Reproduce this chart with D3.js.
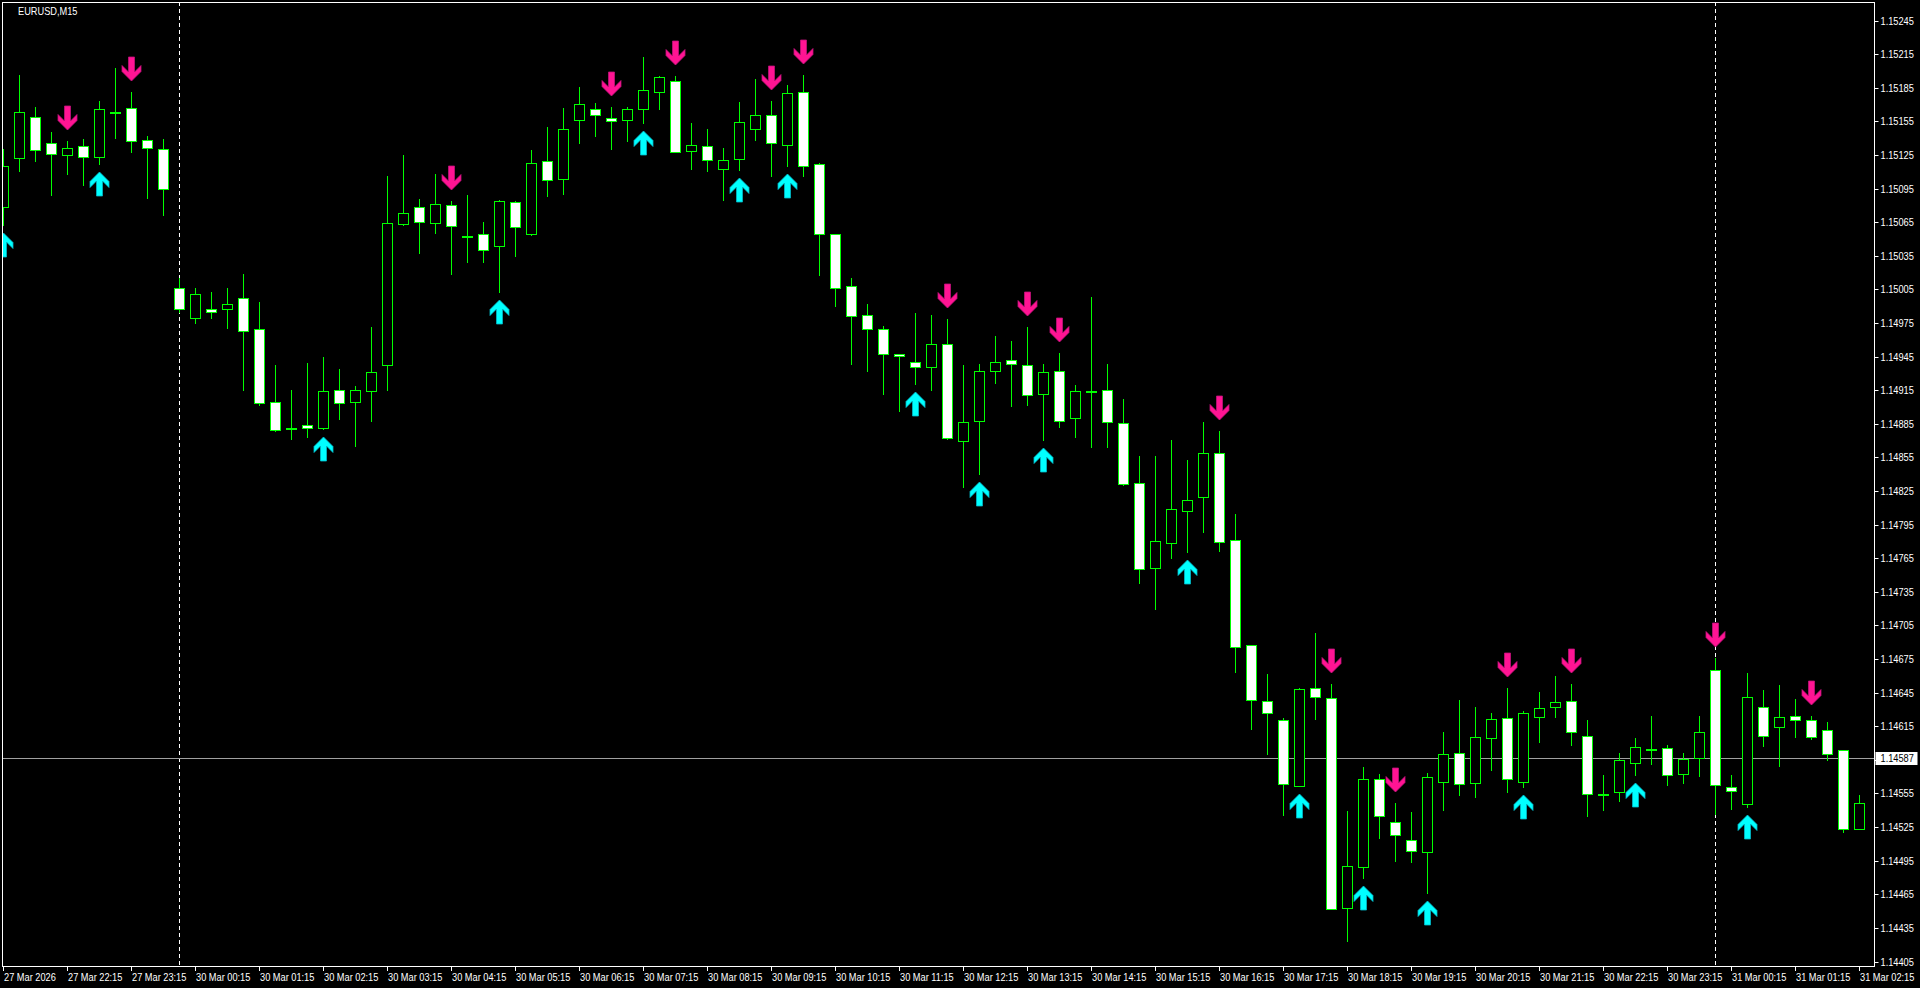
<!DOCTYPE html>
<html><head><meta charset="utf-8">
<script src="https://cdn.jsdelivr.net/npm/d3@7"></script>
<style>html,body{margin:0;padding:0;background:#000;overflow:hidden}svg{display:block}</style>
</head><body>
<script>
const symbolTitle = "EURUSD,M15";
const timeLabels = ["27 Mar 2026","27 Mar 22:15","27 Mar 23:15","30 Mar 00:15","30 Mar 01:15","30 Mar 02:15","30 Mar 03:15","30 Mar 04:15","30 Mar 05:15","30 Mar 06:15","30 Mar 07:15","30 Mar 08:15","30 Mar 09:15","30 Mar 10:15","30 Mar 11:15","30 Mar 12:15","30 Mar 13:15","30 Mar 14:15","30 Mar 15:15","30 Mar 16:15","30 Mar 17:15","30 Mar 18:15","30 Mar 19:15","30 Mar 20:15","30 Mar 21:15","30 Mar 22:15","30 Mar 23:15","31 Mar 00:15","31 Mar 01:15","31 Mar 02:15"];
const opens = [1.15079,1.15123,1.15159,1.15136,1.15125,1.15133,1.15124,1.15164,1.15167,1.15139,
1.15131,1.15007,1.14980,1.14988,1.14988,1.14998,1.14970,1.14905,1.14882,1.14884,
1.14882,1.14916,1.14905,1.14915,1.14938,1.15064,1.15079,1.15065,1.15081,1.15053,
1.15055,1.15044,1.15083,1.15055,1.15120,1.15104,1.15157,1.15166,1.15158,1.15157,
1.15166,1.15182,1.15191,1.15129,1.15133,1.15113,1.15122,1.15149,1.15161,1.15134,
1.15182,1.15117,1.15055,1.15008,1.14983,1.14970,1.14948,1.14941,1.14936,1.14957,
1.14870,1.14888,1.14933,1.14942,1.14938,1.14912,1.14933,1.14891,1.14915,1.14916,
1.14886,1.14833,1.14757,1.14779,1.14808,1.14820,1.14859,1.14782,1.14688,1.14638,
1.14621,1.14562,1.14650,1.14641,1.14453,1.14490,1.14568,1.14530,1.14514,1.14503,
1.14566,1.14592,1.14565,1.14605,1.14623,1.14566,1.14624,1.14633,1.14638,1.14607,
1.14555,1.14557,1.14583,1.14595,1.14596,1.14573,1.14587,1.14666,1.14561,1.14546,
1.14633,1.14615,1.14625,1.14621,1.14612,1.14594,1.14524];
const highs = [1.15131,1.15197,1.15168,1.15146,1.15138,1.15140,1.15174,1.15203,1.15182,1.15142,
1.15140,1.15016,1.15007,1.15003,1.15007,1.15019,1.14994,1.14938,1.14916,1.14940,
1.14945,1.14934,1.14919,1.14972,1.15107,1.15125,1.15086,1.15108,1.15084,1.15090,
1.15066,1.15085,1.15084,1.15130,1.15150,1.15167,1.15186,1.15172,1.15168,1.15168,
1.15213,1.15196,1.15196,1.15154,1.15149,1.15132,1.15173,1.15193,1.15174,1.15188,
1.15197,1.15118,1.15055,1.15016,1.14992,1.14973,1.14948,1.14984,1.14983,1.14979,
1.14938,1.14939,1.14964,1.14959,1.14972,1.14939,1.14949,1.14920,1.14999,1.14939,
1.14908,1.14857,1.14857,1.14871,1.14853,1.14887,1.14879,1.14805,1.14688,1.14662,
1.14623,1.14650,1.14699,1.14653,1.14540,1.14579,1.14573,1.14547,1.14539,1.14574,
1.14610,1.14639,1.14633,1.14627,1.14650,1.14629,1.14646,1.14660,1.14653,1.14621,
1.14572,1.14592,1.14605,1.14625,1.14599,1.14592,1.14625,1.14676,1.14572,1.14663,
1.14648,1.14652,1.14640,1.14625,1.14619,1.14594,1.14554];
const lows = [1.15063,1.15111,1.15120,1.15090,1.15108,1.15099,1.15117,1.15141,1.15128,1.15087,
1.15072,1.14985,1.14975,1.14980,1.14971,1.14916,1.14902,1.14879,1.14872,1.14874,
1.14881,1.14890,1.14866,1.14888,1.14916,1.15063,1.15038,1.15056,1.15019,1.15030,
1.15030,1.15003,1.15035,1.15054,1.15089,1.15091,1.15136,1.15142,1.15131,1.15138,
1.15154,1.15166,1.15128,1.15113,1.15111,1.15085,1.15112,1.15139,1.15107,1.15116,
1.15107,1.15018,1.14991,1.14939,1.14933,1.14912,1.14897,1.14921,1.14916,1.14872,
1.14829,1.14841,1.14922,1.14901,1.14902,1.14871,1.14883,1.14874,1.14865,1.14865,
1.14831,1.14743,1.14720,1.14766,1.14771,1.14789,1.14772,1.14664,1.14613,1.14591,
1.14536,1.14562,1.14622,1.14452,1.14424,1.14480,1.14516,1.14495,1.14494,1.14467,
1.14541,1.14554,1.14552,1.14576,1.14557,1.14561,1.14601,1.14624,1.14599,1.14535,
1.14541,1.14549,1.14572,1.14582,1.14563,1.14565,1.14571,1.14537,1.14542,1.14543,
1.14598,1.14580,1.14606,1.14604,1.14585,1.14521,1.14524];
const closes = [1.15116,1.15164,1.15130,1.15126,1.15132,1.15124,1.15166,1.15164,1.15138,1.15132,
1.15095,1.14988,1.15001,1.14985,1.14992,1.14968,1.14904,1.14880,1.14882,1.14882,
1.14915,1.14904,1.14916,1.14932,1.15065,1.15074,1.15066,1.15082,1.15062,1.15053,
1.15041,1.15084,1.15061,1.15118,1.15103,1.15149,1.15171,1.15161,1.15156,1.15166,
1.15183,1.15195,1.15128,1.15134,1.15121,1.15121,1.15155,1.15161,1.15136,1.15181,
1.15116,1.15055,1.15007,1.14982,1.14970,1.14948,1.14946,1.14936,1.14957,1.14873,
1.14887,1.14933,1.14941,1.14939,1.14911,1.14932,1.14888,1.14915,1.14915,1.14887,
1.14832,1.14756,1.14781,1.14809,1.14817,1.14859,1.14780,1.14686,1.14639,1.14627,
1.14564,1.14649,1.14642,1.14452,1.14491,1.14568,1.14535,1.14518,1.14504,1.14570,
1.14591,1.14564,1.14606,1.14622,1.14568,1.14627,1.14632,1.14637,1.14610,1.14555,
1.14555,1.14585,1.14597,1.14595,1.14572,1.14586,1.14610,1.14563,1.14558,1.14642,
1.14607,1.14624,1.14621,1.14606,1.14591,1.14524,1.14547];
const upArrowBars = [0,6,20,31,40,46,49,57,61,65,74,81,85,89,95,102,109];
const downArrowBars = [4,8,28,38,42,48,50,59,64,66,76,83,87,94,98,107,113];
const separatorBars = [11,107];
const priceTicks = [1.14405,1.14435,1.14465,1.14495,1.14525,1.14555,1.14585,1.14615,1.14645,1.14675,1.14705,1.14735,1.14765,1.14795,1.14825,1.14855,1.14885,1.14915,1.14945,1.14975,1.15005,1.15035,1.15065,1.15095,1.15125,1.15155,1.15185,1.15215,1.15245];
const currentPrice = 1.14587;

const W = 1920, H = 988;
const plot = {left: 2, top: 2, right: 1874, bottom: 966};
const n = opens.length;
const x = d3.scaleLinear().domain([0, n - 1]).range([3.5, 1859.5]);
const y = d3.scaleLinear().domain([priceTicks[0], priceTicks[priceTicks.length - 1]]).range([962, 21]);
const snap = v => Math.round(v - 0.5) + 0.5;

const svg = d3.select("body").append("svg").attr("width", W).attr("height", H).style("background", "#000");
svg.append("defs").append("clipPath").attr("id", "clip").append("rect")
  .attr("x", plot.left).attr("y", plot.top).attr("width", plot.right - plot.left).attr("height", plot.bottom - plot.top);

const g = svg.append("g").attr("clip-path", "url(#clip)");

// period separators
g.selectAll("line.sep").data(separatorBars).join("line")
  .attr("x1", d => snap(x(d))).attr("x2", d => snap(x(d)))
  .attr("y1", plot.top).attr("y2", plot.bottom)
  .attr("stroke", "#fff").attr("stroke-width", 1).attr("stroke-dasharray", "4,3");

// current price line
const yp = snap(y(currentPrice));
g.append("line").attr("x1", plot.left).attr("x2", plot.right).attr("y1", yp).attr("y2", yp)
  .attr("stroke", "#a0a0a0").attr("stroke-width", 1);

const bars = d3.range(n).map(i => ({i, o: opens[i], h: highs[i], l: lows[i], c: closes[i]}));
const lime = "#00ff00";

// wicks
g.selectAll("line.wick").data(bars).join("line")
  .attr("x1", d => snap(x(d.i))).attr("x2", d => snap(x(d.i)))
  .attr("y1", d => Math.round(y(d.h))).attr("y2", d => Math.round(y(d.l)) + 1)
  .attr("stroke", lime).attr("stroke-width", 1);

// bodies
g.selectAll("rect.body").data(bars).join("rect")
  .attr("x", d => snap(x(d.i)) - 5)
  .attr("width", 10)
  .attr("y", d => Math.round(y(Math.max(d.o, d.c))) + 0.5)
  .attr("height", d => Math.max(1, Math.round(y(Math.min(d.o, d.c))) - Math.round(y(Math.max(d.o, d.c)))))
  .attr("fill", d => d.c < d.o ? "#fff" : (d.c > d.o ? "#000" : lime))
  .attr("stroke", lime).attr("stroke-width", 1);

// arrows
const arrowPath = "M0,0 L9.5,9.5 L9.5,15.5 L3,9 L3,24 L-3,24 L-3,9 L-9.5,15.5 L-9.5,9.5 Z";
g.selectAll("path.up").data(upArrowBars).join("path")
  .attr("d", arrowPath)
  .attr("transform", i => `translate(${snap(x(i))},${Math.round(y(lows[i])) + 8})`)
  .attr("fill", "#00ffff").attr("stroke", "#00b8c8").attr("stroke-width", 0.8);
g.selectAll("path.down").data(downArrowBars).join("path")
  .attr("d", arrowPath)
  .attr("transform", i => `translate(${snap(x(i))},${Math.round(y(highs[i])) - 11}) scale(1,-1)`)
  .attr("fill", "#ff1493").attr("stroke", "#c0107a").attr("stroke-width", 0.8);

// frame
svg.append("rect").attr("x", plot.left + 0.5).attr("y", plot.top + 0.5)
  .attr("width", plot.right - plot.left).attr("height", plot.bottom - plot.top)
  .attr("fill", "none").attr("stroke", "#fff").attr("stroke-width", 1);

const font = "'Liberation Sans', Arial, sans-serif";
const fs = "10.5px";
const sx = 0.88;
function label(sel, tx, ty, color) {
  sel.attr("transform", (d, k) => `translate(${tx(d, k)},${ty(d, k)}) scale(${sx},1)`)
    .attr("fill", color).attr("font-family", font).attr("font-size", fs);
}

// price axis
const pa = svg.append("g");
pa.selectAll("line").data(priceTicks).join("line")
  .attr("x1", plot.right + 0.5).attr("x2", plot.right + 4.5)
  .attr("y1", d => snap(y(d))).attr("y2", d => snap(y(d)))
  .attr("stroke", "#fff");
pa.selectAll("text").data(priceTicks).join("text")
  .call(label, () => plot.right + 6.5, d => snap(y(d)) + 3.7, "#fff")
  .text(d => d.toFixed(5));

// current price label
svg.append("rect").attr("x", plot.right + 1.5).attr("y", yp - 6.5).attr("width", 42).attr("height", 13)
  .attr("fill", "#fff");
svg.append("text").datum(currentPrice)
  .call(label, () => plot.right + 6.5, () => yp + 3.7, "#000")
  .text(d => d.toFixed(5));

// time axis
const ta = svg.append("g");
const tickIdx = timeLabels.map((t, k) => k * 4);
ta.selectAll("line").data(tickIdx).join("line")
  .attr("x1", d => snap(x(d))).attr("x2", d => snap(x(d)))
  .attr("y1", plot.bottom + 0.5).attr("y2", plot.bottom + 5)
  .attr("stroke", "#fff");
ta.selectAll("text").data(timeLabels).join("text")
  .call(label, (d, k) => snap(x(tickIdx[k])) + 0.5, () => 980.5, "#fff")
  .text(d => d);

// title
svg.append("text").datum(symbolTitle)
  .call(label, () => 18, () => 15, "#fff")
  .text(d => d);
</script>
</body></html>
